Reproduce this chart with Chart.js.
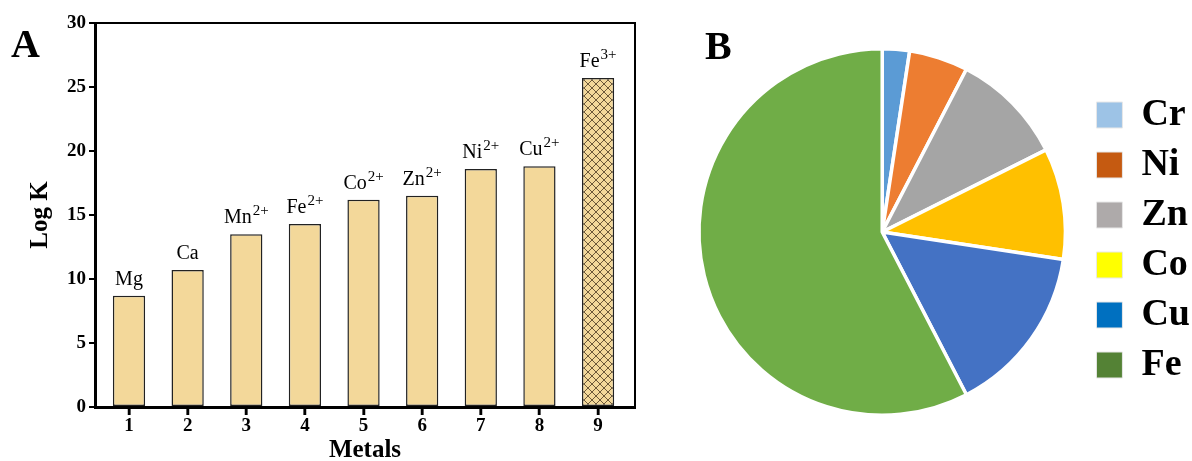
<!DOCTYPE html>
<html>
<head>
<meta charset="utf-8">
<script src="https://cdn.jsdelivr.net/npm/chart.js@4.4.1/dist/chart.umd.min.js"></script>
<style>
  body { margin: 0; background: #fff; overflow: hidden; width: 1192px; height: 461px; position: relative; }
  .panel { position: absolute; top: 0; }
  .tag { position: absolute; font-family: "Liberation Serif", "Times New Roman", serif; font-weight: bold; font-size: 40px; color: #000; }
</style>
</head>
<body>
<div class="panel" style="left:0;width:660px;height:461px"><canvas id="barChart"></canvas></div>
<div class="panel" style="left:650px;width:550px;height:461px"><canvas id="pieChart"></canvas></div>
<div class="tag" style="left:11px;top:20px">A</div>
<div class="tag" style="left:705px;top:22px">B</div>
<script>
// panel A: log K per metal
const metalNumbers = [1, 2, 3, 4, 5, 6, 7, 8, 9];
const ionNames = ["Mg", "Ca", "Mn", "Fe", "Co", "Zn", "Ni", "Cu", "Fe"];
const ionCharges = ["", "", "2+", "2+", "2+", "2+", "2+", "2+", "3+"];
const logK = [8.7, 10.7, 13.5, 14.3, 16.2, 16.5, 18.6, 18.8, 25.7];
const yTicks = [0, 5, 10, 15, 20, 25, 30];

// panel B: share of metals
const pieLabels = ["Cr", "Ni", "Zn", "Co", "Cu", "Fe"];
const pieValues = [2.4, 5.2, 10.0, 9.8, 15.0, 57.6];
const sliceColors = ["#5B9BD5", "#ED7D31", "#A5A5A5", "#FFC000", "#4472C4", "#70AD47"];
const legendColors = ["#9DC3E6", "#C55A11", "#AEAAAA", "#FFFF00", "#0070C0", "#548235"];

const serif = "'Liberation Serif', 'Times New Roman', serif";
const barFill = "#F3D89A";

function hatch() {
  const c = document.createElement("canvas");
  c.width = 8; c.height = 8;
  const g = c.getContext("2d");
  g.fillStyle = barFill;
  g.fillRect(0, 0, 8, 8);
  g.strokeStyle = "#5c4a2e";
  g.lineWidth = 0.9;
  g.beginPath();
  g.moveTo(0, 0); g.lineTo(8, 8);
  g.moveTo(8, 0); g.lineTo(0, 8);
  g.stroke();
  return g.createPattern(c, "repeat");
}

// top/right box lines + the small marks under each metal number
const frame = {
  id: "frame",
  afterDraw(chart) {
    const a = chart.chartArea, ctx = chart.ctx;
    const xs = chart.scales.x;
    ctx.save();
    ctx.strokeStyle = "#000";
    ctx.lineWidth = 2;
    ctx.beginPath();
    ctx.moveTo(a.left, a.top);
    ctx.lineTo(a.right, a.top);
    ctx.lineTo(a.right, a.bottom);
    ctx.stroke();
    ctx.lineWidth = 2.5;
    ctx.beginPath();
    metalNumbers.forEach(n => {
      const px = Math.round(xs.getPixelForValue(n));
      ctx.moveTo(px, a.bottom);
      ctx.lineTo(px, a.bottom + 8);
    });
    ctx.stroke();
    ctx.restore();
  }
};

const ionLabels = {
  id: "ionLabels",
  afterDatasetsDraw(chart) {
    const ctx = chart.ctx;
    const bars = chart.getDatasetMeta(0).data;
    ctx.save();
    ctx.fillStyle = "#000";
    ctx.textBaseline = "alphabetic";
    ctx.textAlign = "left";
    bars.forEach((b, i) => {
      ctx.font = "20px " + serif;
      const w1 = ctx.measureText(ionNames[i]).width;
      ctx.font = "15px " + serif;
      const w2 = ionCharges[i] ? ctx.measureText(ionCharges[i]).width + 1 : 0;
      const x0 = b.x - (w1 + w2) / 2;
      const y0 = b.y - 11;
      ctx.font = "20px " + serif;
      ctx.fillText(ionNames[i], x0, y0);
      if (ionCharges[i]) {
        ctx.font = "15px " + serif;
        ctx.fillText(ionCharges[i], x0 + w1 + 1, y0 - 8);
      }
    });
    ctx.restore();
  }
};

const pattern = hatch();

new Chart(document.getElementById("barChart"), {
  type: "bar",
  data: {
    datasets: [{
      data: metalNumbers.map((n, i) => ({ x: n, y: logK[i] })),
      backgroundColor: metalNumbers.map((n, i) => i === 8 ? pattern : barFill),
      borderColor: "#222",
      borderWidth: 1.5,
      borderSkipped: false,
      barPercentage: 0.55,
      categoryPercentage: 1
    }]
  },
  options: {
    responsive: true,
    maintainAspectRatio: false,
    animation: false,
    layout: { padding: { left: 26, top: 23, right: 25, bottom: -5 } },
    plugins: { legend: { display: false }, tooltip: { enabled: false } },
    scales: {
      x: {
        type: "linear",
        offset: false,
        min: 0.42,
        max: 9.63,
        afterFit: s => { s.height = 59; },
        afterBuildTicks: s => { s.ticks = metalNumbers.map(v => ({ value: v })); },
        ticks: { font: { family: serif, size: 19, weight: "bold" }, color: "#000", padding: 0 },
        grid: { offset: false, drawOnChartArea: false, tickLength: 8, tickColor: "#000", tickWidth: 2, color: "#000" },
        border: { color: "#000", width: 3 },
        title: { display: true, text: "Metals", font: { family: serif, size: 25, weight: "bold" }, color: "#000", padding: 0 }
      },
      y: {
        min: 0,
        max: 30,
        afterFit: s => { s.width = 69; },
        afterBuildTicks: s => { s.ticks = yTicks.map(v => ({ value: v })); },
        ticks: { font: { family: serif, size: 19, weight: "bold" }, color: "#000", padding: 3 },
        grid: { drawOnChartArea: false, tickLength: 6, tickColor: "#000", tickWidth: 2, color: "#000", lineWidth: 2 },
        border: { color: "#000", width: 3 },
        title: { display: true, text: "Log K", font: { family: serif, size: 25, weight: "bold" }, color: "#000", padding: 0 }
      }
    }
  },
  plugins: [frame, ionLabels]
});

new Chart(document.getElementById("pieChart"), {
  type: "pie",
  data: {
    labels: pieLabels,
    datasets: [{
      data: pieValues,
      backgroundColor: sliceColors,
      borderColor: "#fff",
      borderWidth: 3.5
    }]
  },
  options: {
    responsive: true,
    maintainAspectRatio: false,
    animation: false,
    layout: { padding: { left: 30, top: 47, bottom: 44, right: 0 } },
    plugins: {
      tooltip: { enabled: false },
      legend: {
        position: "right",
        title: { display: true, text: " ", font: { size: 10 }, padding: 2 },
        labels: {
          boxWidth: 26,
          boxHeight: 26,
          padding: 12,
          color: "#000",
          font: { family: serif, size: 38, weight: "bold" },
          generateLabels(chart) {
            const items = Chart.overrides.pie.plugins.legend.labels.generateLabels(chart);
            items.forEach((it, i) => {
              it.fillStyle = legendColors[i];
              it.strokeStyle = "#e8e8e8";
              it.lineWidth = 1;
            });
            return items;
          }
        }
      }
    }
  }
});
</script>
</body>
</html>
